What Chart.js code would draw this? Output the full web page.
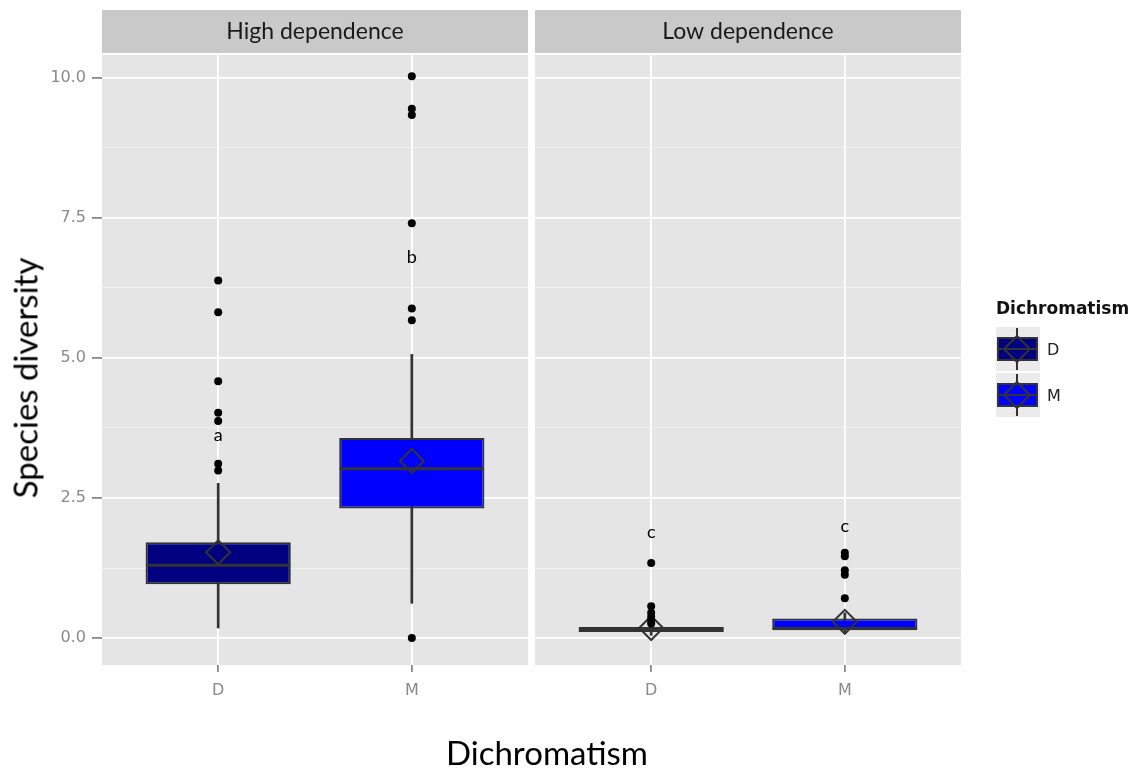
<!DOCTYPE html>
<html><head><meta charset="utf-8">
<script src="https://cdn.jsdelivr.net/npm/chart.js@4"></script>
<style>
html,body{margin:0;padding:0;background:#fff;}
#wrap{position:relative;width:1133px;height:769px;overflow:hidden;background:#fff;}
#cA{position:absolute;left:0;top:0;width:530px;height:769px;}
#cB{position:absolute;left:530px;top:0;width:603px;height:769px;}
.title{position:absolute;font-family:Lato,'Open Sans',sans-serif;font-size:33px;line-height:1;color:#000;white-space:nowrap;}
#xt{left:547px;top:752px;transform:translate(-50%,-50%);}
#yt{left:25px;top:378px;transform:translate(-50%,-50%) rotate(-90deg);}
</style></head>
<body><div id="wrap">
<canvas id="cA" width="530" height="769"></canvas>
<canvas id="cB" width="603" height="769"></canvas>
<div id="yt" class="title">Species diversity</div>
<div id="xt" class="title">Dichromatism</div>
</div>
<script>
// ---- data ----
const categories = ['D', 'M'];
const panelTitles = ['High dependence', 'Low dependence'];
const legendTitle = 'Dichromatism';
const yTickValues = [0, 1.25, 2.5, 3.75, 5, 6.25, 7.5, 8.75, 10];

// High dependence panel
const highWhiskerLow = [0.18, 0.62];
const highQ1 = [0.96, 2.31];
const highMedian = [1.30, 3.02];
const highQ3 = [1.71, 3.57];
const highWhiskerHigh = [2.76, 5.06];
const highMean = [1.53, 3.16];
const highOutliersD = [6.38, 5.81, 4.58, 4.02, 3.87, 3.11, 2.99];
const highOutliersM = [10.02, 9.44, 9.33, 7.40, 5.88, 5.67, 0.0];
const highLetters = ['a', 'b'];
const highLetterY = [3.62, 6.80];

// Low dependence panel
const lowWhiskerLow = [0.05, 0.08];
const lowQ1 = [0.11, 0.14];
const lowMedian = [0.16, 0.17];
const lowQ3 = [0.20, 0.35];
const lowWhiskerHigh = [0.23, 0.45];
const lowMean = [0.18, 0.29];
const lowOutliersD = [1.34, 0.57, 0.45, 0.38, 0.31, 0.26];
const lowOutliersM = [1.52, 1.46, 1.21, 1.13, 0.71];
const lowLetters = ['c', 'c'];
const lowLetterY = [1.88, 2.00];

// ---- styles ----
const boxColors = ['#000080', '#0000FF'];
const lineCol = '#333333';
const tickCol = '#8a8a8a';

function isMajor(v) { return Math.abs(v / 2.5 - Math.round(v / 2.5)) < 1e-6; }

function buildDatasets(s) {
  return [
    { type: 'scatter', order: 0,
      data: s.outD.map(v => ({ x: 0, y: v })).concat(s.outM.map(v => ({ x: 1, y: v }))),
      pointRadius: 4, pointHoverRadius: 4, pointBackgroundColor: '#000', pointBorderWidth: 0 },
    { type: 'scatter', order: 1,
      data: s.mean.map((v, i) => ({ x: i, y: v })),
      pointStyle: 'rectRot', pointRadius: 12, pointHoverRadius: 12,
      pointBackgroundColor: 'rgba(0,0,0,0)', pointBorderColor: lineCol, pointBorderWidth: 2 },
    { type: 'scatter', order: 2,
      data: s.median.map((v, i) => ({ x: i, y: v })),
      pointStyle: 'line', pointRadius: 72, pointHoverRadius: 72,
      pointBorderColor: lineCol, pointBorderWidth: 3 },
    { type: 'bar', order: 3,
      data: s.q1.map((v, i) => ({ x: i, y: [v, s.q3[i]] })),
      backgroundColor: boxColors, borderColor: lineCol, borderWidth: 2, borderSkipped: false,
      grouped: false, barPercentage: 0.75, categoryPercentage: 1 },
    { type: 'bar', order: 4,
      data: s.wlo.map((v, i) => ({ x: i, y: [v, s.whi[i]] })),
      backgroundColor: lineCol, borderWidth: 0, grouped: false, maxBarThickness: 2,
      barPercentage: 1, categoryPercentage: 1 }
  ];
}

const panelPlugin = {
  id: 'panel',
  beforeDraw(chart, args, opts) {
    const ctx = chart.ctx, ca = chart.chartArea;
    ctx.save();
    ctx.fillStyle = '#c9c9c9';
    ctx.fillRect(ca.left, 10, ca.right - ca.left, 43);
    ctx.fillStyle = '#e5e5e5';
    ctx.fillRect(ca.left, ca.top, ca.right - ca.left, ca.bottom - ca.top);
    ctx.fillStyle = '#1a1a1a';
    ctx.font = '23px Lato';
    ctx.textAlign = 'center';
    ctx.textBaseline = 'middle';
    ctx.fillText(opts.title, (ca.left + ca.right) / 2, 32);
    ctx.restore();
  },
  afterDatasetsDraw(chart, args, opts) {
    const ctx = chart.ctx, xs = chart.scales.x, ys = chart.scales.y;
    ctx.save();
    ctx.fillStyle = '#000';
    ctx.font = '18px Lato';
    ctx.textAlign = 'center';
    ctx.textBaseline = 'middle';
    opts.letters.forEach((t, i) => {
      ctx.fillText(t, xs.getPixelForValue(i), ys.getPixelForValue(opts.letterY[i]));
    });
    ctx.restore();
  },
  afterDraw(chart, args, opts) {
    if (!opts.legend) return;
    const ctx = chart.ctx, ox = 530;
    ctx.save();
    ctx.fillStyle = '#111';
    ctx.font = 'bold 17px "DejaVu Sans"';
    ctx.textAlign = 'left';
    ctx.textBaseline = 'middle';
    ctx.fillText(legendTitle, 996 - ox, 310);
    const keyTops = [327, 373];
    categories.forEach((c, i) => {
      const top = keyTops[i];
      const kx = 996 - ox, cx = kx + 21, cy = top + 22;
      ctx.fillStyle = '#ebebeb';
      ctx.fillRect(kx, top, 44, 44);
      ctx.strokeStyle = lineCol;
      ctx.lineWidth = 2;
      ctx.beginPath(); ctx.moveTo(cx, top + 1); ctx.lineTo(cx, top + 43); ctx.stroke();
      ctx.fillStyle = boxColors[i];
      ctx.fillRect(kx + 2, cy - 11, 39, 22);
      ctx.strokeRect(kx + 2, cy - 11, 39, 22);
      ctx.beginPath(); ctx.moveTo(kx + 2, cy); ctx.lineTo(kx + 41, cy); ctx.stroke();
      ctx.beginPath();
      ctx.moveTo(cx - 13, cy); ctx.lineTo(cx, cy - 13); ctx.lineTo(cx + 13, cy); ctx.lineTo(cx, cy + 13); ctx.closePath();
      ctx.stroke();
      ctx.fillStyle = '#222';
      ctx.font = '16px "DejaVu Sans"';
      ctx.fillText(c, 1047 - ox, cy + 2);
    });
    ctx.restore();
  }
};

function makeChart(id, s, showY, pad, title, letters, letterY, legend) {
  return new Chart(document.getElementById(id), {
    type: 'bar',
    data: { datasets: buildDatasets(s) },
    plugins: [panelPlugin],
    options: {
      responsive: false,
      animation: false,
      events: [],
      layout: { padding: pad, autoPadding: false },
      plugins: {
        legend: { display: false },
        tooltip: { enabled: false },
        panel: { title: title, letters: letters, letterY: letterY, legend: legend }
      },
      scales: {
        x: {
          type: 'linear', min: -0.6, max: 1.6, bounds: 'data', offset: false,
          afterBuildTicks: sc => { sc.ticks = categories.map((c, i) => ({ value: i })); },
          afterFit: sc => { sc.height = 104; },
          grid: { offset: false, color: '#ffffff', lineWidth: 1.8, tickColor: tickCol, tickLength: 7, drawTicks: true },
          border: { display: false },
          ticks: { callback: v => categories[v], autoSkip: false, maxRotation: 0,
                   font: { family: 'DejaVu Sans', size: 16 }, color: tickCol, padding: 9 }
        },
        y: {
          type: 'linear', min: -0.48, max: 10.4, bounds: 'data',
          afterBuildTicks: sc => { sc.ticks = yTickValues.map(v => ({ value: v })); },
          afterFit: sc => { sc.width = showY ? 102 : 0; },
          grid: {
            color: c => (c.tick && isMajor(c.tick.value)) ? '#ffffff' : '#f2f2f2',
            lineWidth: c => (c.tick && isMajor(c.tick.value)) ? 1.8 : 0.9,
            tickColor: c => (showY && c.tick && isMajor(c.tick.value)) ? tickCol : 'rgba(0,0,0,0)',
            tickLength: showY ? 10 : 0, drawTicks: showY
          },
          border: { display: false },
          ticks: { display: showY, callback: v => isMajor(v) ? v.toFixed(1) : '',
                   font: { family: 'DejaVu Sans', size: 16 }, color: tickCol, padding: 6 }
        }
      }
    }
  });
}

makeChart('cA',
  { wlo: highWhiskerLow, q1: highQ1, median: highMedian, q3: highQ3, whi: highWhiskerHigh,
    mean: highMean, outD: highOutliersD, outM: highOutliersM },
  true, { top: 55, right: 2, bottom: 0, left: 0 }, panelTitles[0], highLetters, highLetterY, false);

makeChart('cB',
  { wlo: lowWhiskerLow, q1: lowQ1, median: lowMedian, q3: lowQ3, whi: lowWhiskerHigh,
    mean: lowMean, outD: lowOutliersD, outM: lowOutliersM },
  false, { top: 55, right: 172, bottom: 0, left: 5 }, panelTitles[1], lowLetters, lowLetterY, true);
</script>
</body></html>
